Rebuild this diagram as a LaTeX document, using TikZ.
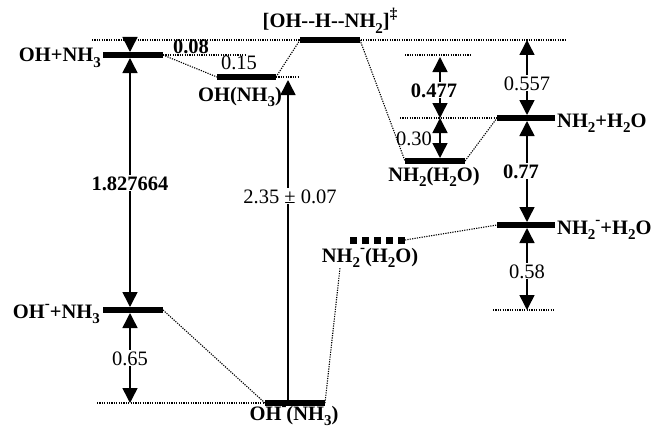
\documentclass[tikz,border=0pt]{standalone}
\usepackage{fontspec}
\setmainfont{Liberation Serif}
\usetikzlibrary{arrows.meta}
\newcommand{\lsub}[1]{\raisebox{-0.28em}{\fontsize{15}{15}\selectfont #1}}
\newcommand{\lsup}[1]{\raisebox{0.45em}{\fontsize{15}{15}\selectfont #1}}
\begin{document}
\begin{tikzpicture}[x=1pt,y=-1pt,
  bar/.style={line width=6.5pt},
  dbar/.style={line width=7pt, dash pattern=on 7pt off 5pt},
  lvl/.style={line width=1.1pt, dash pattern=on 1.2pt off 1.2pt},
  arr/.style={line width=1.5pt, -{Triangle[length=15pt,width=15pt]}},
  lab/.style={font=\fontsize{20.5}{24}\selectfont\bfseries, inner sep=0pt},
  val/.style={font=\fontsize{20.5}{24}\selectfont, fill=white, inner sep=1pt},
  bval/.style={val, font=\fontsize{20.5}{24}\selectfont\bfseries}]
\useasboundingbox (0,0) rectangle (655,428);
% level end points
\coordinate (A1) at (103,55);  \coordinate (A2) at (163,55);   % OH+NH3
\coordinate (B1) at (217,77);  \coordinate (B2) at (276,77);   % OH(NH3)
\coordinate (T1) at (300,40);  \coordinate (T2) at (360,40);   % TS
\coordinate (C1) at (405,161); \coordinate (C2) at (465,161);  % NH2(H2O)
\coordinate (D1) at (497,118); \coordinate (D2) at (555,118);  % NH2+H2O
\coordinate (E1) at (497,225); \coordinate (E2) at (555,225);  % NH2- + H2O
\coordinate (F1) at (350,240); \coordinate (F2) at (405,240);  % NH2-(H2O)
\coordinate (G1) at (103,310); \coordinate (G2) at (163,310);  % OH- + NH3
\coordinate (H1) at (265,403); \coordinate (H2) at (325,403);  % OH-(NH3)
% reference line ends
\coordinate (topL) at (92,40);   \coordinate (topR) at (567,40);
\coordinate (r15) at (245,55);
\coordinate (rB) at (298,77);
\coordinate (r477a) at (405,55); \coordinate (r477b) at (472,55);
\coordinate (rD) at (400,118);
\coordinate (rF) at (340,268);
\coordinate (rH) at (97,403);
\coordinate (r58a) at (493,310); \coordinate (r58b) at (555,310);
% dotted lines
\draw[lvl] (topL) -- (topR);
\draw[lvl] (A2) -- (r15);
\draw[lvl] (A2) -- (B1);
\draw[lvl] (B2) -- (rB);
\draw[lvl] (B2) -- (T1);
\draw[lvl] (T2) -- (C1);
\draw[lvl] (r477a) -- (r477b);
\draw[lvl] (rD) -- (D1);
\draw[lvl] (C2) -- (D1);
\draw[lvl] (F2) -- (E1);
\draw[lvl] (H2) -- (rF);
\draw[lvl] (G2) -- (H1);
\draw[lvl] (rH) -- (H1);
\draw[lvl] (r58a) -- (r58b);
% bars
\draw[bar] (A1) -- (A2);
\draw[bar] (B1) -- (B2);
\draw[bar] (T1) -- (T2);
\draw[bar] (C1) -- (C2);
\draw[bar] (D1) -- (D2);
\draw[bar] (E1) -- (E2);
\draw[dbar] (F1) -- (F2);
\draw[bar] (G1) -- (G2);
\draw[bar] (H1) -- (H2);
% arrows at x=130
\coordinate (p1) at (130,40);  \coordinate (p2) at (130,52);
\coordinate (p3) at (130,58);  \coordinate (p4) at (130,307);
\coordinate (p5) at (130,313); \coordinate (p6) at (130,403);
\coordinate (pm1) at (130,183); \coordinate (pm2) at (130,358);
\draw[arr] (p1) -- (p2);
\draw[arr] (pm1) -- (p3);
\draw[arr] (pm1) -- (p4);
\draw[arr] (pm2) -- (p5);
\draw[arr] (pm2) -- (p6);
% 2.35 arrow
\coordinate (q1) at (288,400); \coordinate (q2) at (288,80);
\draw[arr] (q1) -- (q2);
% arrows at x=440
\coordinate (s1) at (440,57);  \coordinate (s2) at (440,118);
\coordinate (s3) at (440,158); \coordinate (sm1) at (440,90);
\coordinate (sm2) at (440,138);
\draw[arr] (sm1) -- (s1);
\draw[arr] (sm1) -- (s2);
\draw[arr] (sm2) -- (s2);
\draw[arr] (sm2) -- (s3);
% arrows at x=527
\coordinate (u1) at (527,40);  \coordinate (u2) at (527,115);
\coordinate (u3) at (527,121); \coordinate (u4) at (527,222);
\coordinate (u5) at (527,228); \coordinate (u6) at (527,310);
\coordinate (um1) at (527,83); \coordinate (um2) at (527,172);
\coordinate (um3) at (527,271);
\draw[arr] (um1) -- (u1);
\draw[arr] (um1) -- (u2);
\draw[arr] (um2) -- (u3);
\draw[arr] (um2) -- (u4);
\draw[arr] (um3) -- (u5);
\draw[arr] (um3) -- (u6);
% labels
\node[lab, anchor=base east] (lA) at (101,62) {OH+NH\lsub{3}};
\node[lab, anchor=base] (l08) at (191,53) {0.08};
\node[val, fill=none, inner sep=0pt, anchor=base] (l15) at (239,70) {0.15};
\node[lab, anchor=base] (lB) at (240,101) {OH(NH\lsub{3})};
\node[lab, anchor=base] (lT) at (330,28) {[OH-{}-H-{}-NH\lsub{2}]\lsup{‡}};
\node[bval, anchor=base] (l18) at (130,190) {1.827664};
\node[val, anchor=base] (l235) at (290,203) {2.35 ± 0.07};
\node[bval, anchor=base] (l477) at (434,97) {0.477};
\node[val, anchor=base] (l557) at (527,90) {0.557};
\node[val, fill=none, inner sep=0pt, anchor=base] (l30) at (414,145) {0.30};
\node[lab, anchor=base] (lC) at (434,181) {NH\lsub{2}(H\lsub{2}O)};
\node[bval, anchor=base] (l77) at (521,178) {0.77};
\node[lab, anchor=base west] (lD) at (557,127) {NH\lsub{2}+H\lsub{2}O};
\node[lab, anchor=base west] (lE) at (557,234) {NH\lsub{2}\lsup{-}+H\lsub{2}O};
\node[lab, anchor=base] (lF) at (370,262) {NH\lsub{2}\lsup{-}(H\lsub{2}O)};
\node[val, anchor=base] (l58) at (527,278) {0.58};
\node[lab, anchor=base east] (lG) at (100,318) {OH\lsup{-}+NH\lsub{3}};
\node[val, anchor=base] (l65) at (130,365) {0.65};
\node[lab, anchor=base] (lH) at (294,420) {OH\lsup{-}(NH\lsub{3})};
\end{tikzpicture}
\end{document}
